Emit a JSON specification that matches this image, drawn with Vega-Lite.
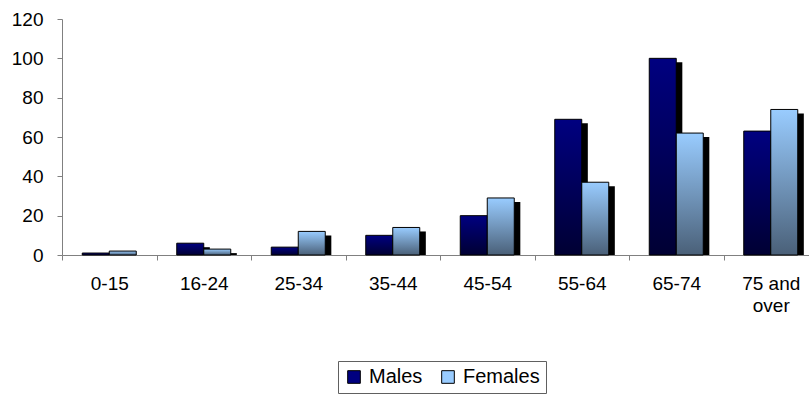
{
  "$schema": "https://vega.github.io/schema/vega-lite/v6.json",
  "autosize": {"type": "none"},
  "padding": {"left": 62, "top": 19, "right": 0, "bottom": 145},
  "width": 756,
  "height": 236,
  "background": "white",
  "config": {
    "view": {"stroke": null},
    "font": "Liberation Sans",
    "axis": {"labelFont": "Liberation Sans", "labelColor": "black", "labelFontSize": 19, "domainColor": "#808080", "tickColor": "#808080", "tickSize": 5, "grid": false, "title": null}
  },
  "data": {
    "values": [
      {"age": "0-15", "sex": "Males", "value": 1},
      {"age": "0-15", "sex": "Females", "value": 2},
      {"age": "16-24", "sex": "Males", "value": 6},
      {"age": "16-24", "sex": "Females", "value": 3},
      {"age": "25-34", "sex": "Males", "value": 4},
      {"age": "25-34", "sex": "Females", "value": 12},
      {"age": "35-44", "sex": "Males", "value": 10},
      {"age": "35-44", "sex": "Females", "value": 14},
      {"age": "45-54", "sex": "Males", "value": 20},
      {"age": "45-54", "sex": "Females", "value": 29},
      {"age": "55-64", "sex": "Males", "value": 69},
      {"age": "55-64", "sex": "Females", "value": 37},
      {"age": "65-74", "sex": "Males", "value": 100},
      {"age": "65-74", "sex": "Females", "value": 62},
      {"age": "75 and over", "sex": "Males", "value": 63},
      {"age": "75 and over", "sex": "Females", "value": 74}
    ]
  },
  "resolve": {"scale": {"xOffset": "independent", "y": "independent"}},
  "layer": [
    {
      "mark": {"type": "bar", "color": "black", "clip": true},
      "encoding": {
        "x": {
          "field": "age", "type": "nominal", "sort": null,
          "scale": {"paddingInner": 0, "paddingOuter": 0},
          "axis": {"labelAngle": 0, "tickBand": "extent", "labelPadding": 14, "labelExpr": "datum.value == '75 and over' ? ['75 and', 'over'] : datum.value", "labelLineHeight": 22, "labelBaseline": "top"}
        },
        "xOffset": {"field": "sex", "type": "nominal", "scale": {"domain": ["Males", "Females"], "paddingInner": 0, "paddingOuter": 0.75, "align": 0.65}},
        "y": {"field": "value", "type": "quantitative", "scale": {"domain": [0, 120], "nice": false, "zero": true, "range": [240, 4]}, "axis": null}
      }
    },
    {
      "mark": {"type": "bar", "opacity": 0},
      "encoding": {
        "x": {"field": "age", "type": "nominal", "sort": null},
        "xOffset": {"field": "sex", "type": "nominal", "scale": {"domain": ["Males", "Females"], "paddingInner": 0, "paddingOuter": 0.75}},
        "y": {
          "field": "value", "type": "quantitative",
          "scale": {"domain": [0, 120], "nice": false},
          "axis": {"values": [0, 20, 40, 60, 80, 100, 120], "labelPadding": 14}
        },
        "color": {
          "field": "sex", "type": "nominal",
          "scale": {"domain": ["Males", "Females"], "range": ["#000080", "#99CCFF"]},
          "legend": {
            "title": null, "orient": "none", "direction": "horizontal",
            "legendX": 276, "legendY": 342,
            "symbolType": "square", "symbolSize": 160, "symbolStrokeColor": "black", "symbolStrokeWidth": 1,
            "labelFont": "Liberation Sans", "labelFontSize": 20, "labelColor": "black",
            "strokeColor": "#606060", "fillColor": "white", "padding": 6, "columnPadding": 15, "labelOffset": 5
          }
        }
      }
    },
    {
      "transform": [{"filter": "datum.sex == 'Males'"}],
      "mark": {"type": "bar", "stroke": "black", "strokeWidth": 1,
        "fill": {"gradient": "linear", "x1": 0, "y1": 0, "x2": 0, "y2": 1, "stops": [{"offset": 0, "color": "#000080"}, {"offset": 1, "color": "#000033"}]}},
      "encoding": {
        "x": {"field": "age", "type": "nominal", "sort": null},
        "xOffset": {"field": "sex", "type": "nominal", "scale": {"domain": ["Males", "Females"], "paddingInner": 0, "paddingOuter": 0.75}},
        "y": {"field": "value", "type": "quantitative", "axis": null, "scale": {"domain": [0, 120], "nice": false}}
      }
    },
    {
      "transform": [{"filter": "datum.sex == 'Females'"}],
      "mark": {"type": "bar", "stroke": "black", "strokeWidth": 1,
        "fill": {"gradient": "linear", "x1": 0, "y1": 0, "x2": 0, "y2": 1, "stops": [{"offset": 0, "color": "#99CCFF"}, {"offset": 1, "color": "#4A6078"}]}},
      "encoding": {
        "x": {"field": "age", "type": "nominal", "sort": null},
        "xOffset": {"field": "sex", "type": "nominal", "scale": {"domain": ["Males", "Females"], "paddingInner": 0, "paddingOuter": 0.75}},
        "y": {"field": "value", "type": "quantitative", "axis": null, "scale": {"domain": [0, 120], "nice": false}}
      }
    }
  ]
}
